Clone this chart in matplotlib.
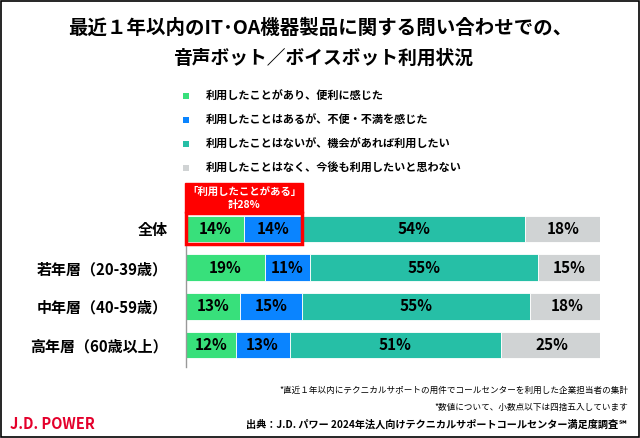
import matplotlib
matplotlib.use('Agg')
from matplotlib import pyplot as plt
from matplotlib.patches import Rectangle

# 日本語フォント
plt.rcParams['font.family'] = ['Noto Sans CJK JP', 'DejaVu Sans']

# データ
categories = ['全体', '若年層（20-39歳）', '中年層（40-59歳）', '高年層（60歳以上）']
series_names = ['利用したことがあり、便利に感じた',
                '利用したことはあるが、不便・不満を感じた',
                '利用したことはないが、機会があれば利用したい',
                '利用したことはなく、今後も利用したいと思わない']
values = [
    [14, 19, 13, 12],
    [14, 11, 15, 13],
    [54, 55, 55, 51],
    [18, 15, 18, 25],
]
colors = ['#38E07B', '#0A84FF', '#26BFA6', '#D0D3D4']
used_total = 28

W, H = 640, 438
fig = plt.figure(figsize=(W / 100, H / 100), dpi=100)

# 外枠
fig.patches.append(Rectangle((0.002, 0.002), 0.996, 0.995, transform=fig.transFigure,
                             fill=False, edgecolor='black', linewidth=1.2))

# タイトル
fig.text(0.5, 1 - 28 / H, '最近１年以内のIT･OA機器製品に関する問い合わせでの、',
         ha='center', va='center', fontsize=14, fontweight='bold')
fig.text(0.505, 1 - 58 / H, '音声ボット／ボイスボット利用状況',
         ha='center', va='center', fontsize=13.5, fontweight='bold')

# 凡例
legend_y = [96, 120, 144, 168]
for name, c, y in zip(series_names, colors, legend_y):
    fig.patches.append(Rectangle((183 / W, 1 - (y + 3) / H), 6 / W, 6 / H,
                                 transform=fig.transFigure, facecolor=c, edgecolor='none'))
    fig.text(206 / W, 1 - y / H, name, ha='left', va='center', fontsize=8, fontweight='bold')

# 棒グラフ
row_h = 39.3
top = 229 - row_h / 2
bottom = 347 + row_h / 2
ax = fig.add_axes([186 / W, 1 - bottom / H, 414 / W, (bottom - top) / H])
ypos = list(range(len(categories)))
left = [0] * len(categories)
for vals, c in zip(values, colors):
    ax.barh(ypos, vals, left=left, height=0.68, color=c, edgecolor='white', linewidth=0.6)
    for y, v, l in zip(ypos, vals, left):
        ax.text(l + v / 2, y, f'{v}%', ha='center', va='center', fontsize=11, fontweight='bold')
    left = [l + v for l, v in zip(left, vals)]

ax.set_xlim(0, 100)
ax.set_ylim(len(categories) - 0.5 + 0.05, -0.5)
ax.set_yticks(ypos)
ax.set_yticklabels(categories, fontsize=10.8, fontweight='bold')
ax.tick_params(axis='y', length=0, pad=13)
ax.set_xticks([])
for s in ['top', 'right', 'bottom']:
    ax.spines[s].set_visible(False)
ax.spines['left'].set_color('#999999')
ax.spines['left'].set_linewidth(1)

# 「利用したことがある」枠
bh = 0.68
ax.add_patch(Rectangle((0, -bh / 2 - 0.06), used_total, bh + 0.12, fill=False,
                       edgecolor='#FF0000', linewidth=2.5, clip_on=False, zorder=5))
ax.add_patch(Rectangle((-0.3, -bh / 2 - 0.85), used_total + 0.6, 0.79, facecolor='#FF0000',
                       edgecolor='#FF0000', linewidth=1, clip_on=False, zorder=5))
ax.text(used_total / 2, -bh / 2 - 0.62, '「利用したことがある」', ha='center', va='center',
        color='white', fontsize=7.5, fontweight='bold', zorder=6)
ax.text(used_total / 2, -bh / 2 - 0.27, f'計{used_total}%', ha='center', va='center',
        color='white', fontsize=7.5, fontweight='bold', zorder=6)

# 注記
fig.text(628 / W, 1 - 390 / H, '*直近１年以内にテクニカルサポートの用件でコールセンターを利用した企業担当者の集計',
         ha='right', va='center', fontsize=6.2)
fig.text(628 / W, 1 - 407 / H, '*数値について、小数点以下は四捨五入しています',
         ha='right', va='center', fontsize=6.2)
fig.text(628 / W, 1 - 425 / H, '出典：J.D. パワー 2024年法人向けテクニカルサポートコールセンター満足度調査℠',
         ha='right', va='center', fontsize=7.3, fontweight='bold')
fig.text(10 / W, 1 - 424 / H, 'J.D. POWER', ha='left', va='center', fontsize=10.5,
         fontweight='bold', color='#E4002B')

fig.savefig('out.png', dpi=100)
